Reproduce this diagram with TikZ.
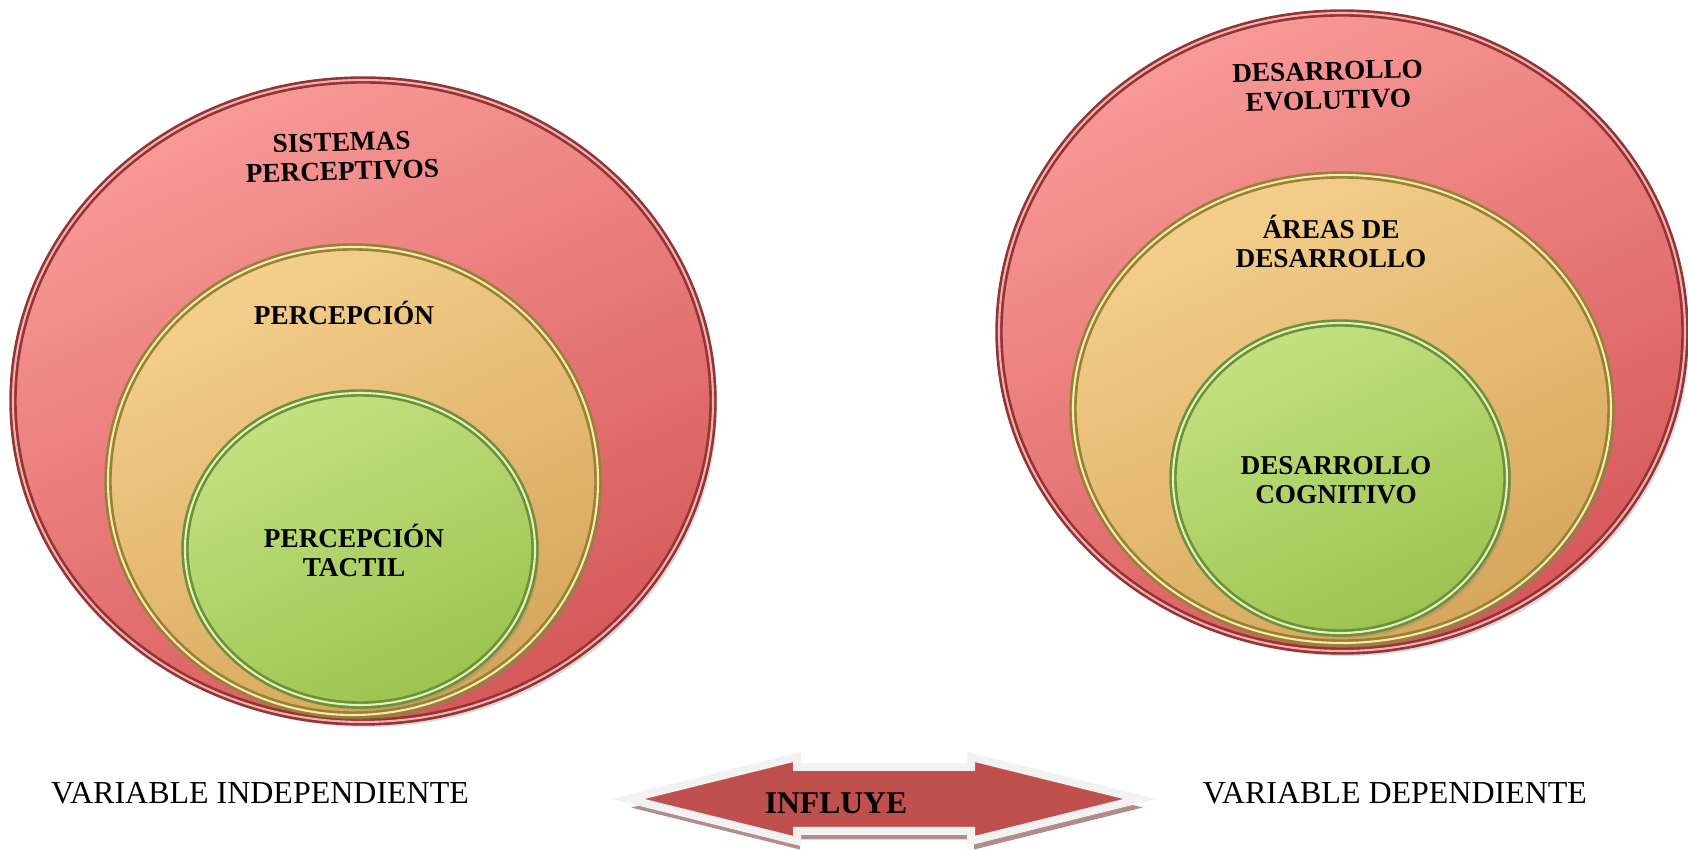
\documentclass[tikz,border=0pt]{standalone}
\usepackage{fontspec}
\setmainfont{Liberation Serif}
\usetikzlibrary{shapes.geometric,shadows}

\definecolor{redtop}{HTML}{F89A98}
\definecolor{redbot}{HTML}{D65859}
\definecolor{redrim}{HTML}{943434}
\definecolor{redlight}{HTML}{F2B0AE}
\definecolor{tantop}{HTML}{F4CF8C}
\definecolor{tanbot}{HTML}{D6A65C}
\definecolor{tanrim}{HTML}{968230}
\definecolor{tanlight}{HTML}{F8E6B4}
\definecolor{greentop}{HTML}{C2E281}
\definecolor{greenbot}{HTML}{9CC350}
\definecolor{greenrim}{HTML}{6E9036}
\definecolor{greenlight}{HTML}{E2F2BE}
\definecolor{arrowred}{HTML}{C0504D}
\definecolor{arrowedge}{HTML}{F2F2F2}
\definecolor{arrowshade}{HTML}{B38C8A}

\begin{document}
\begin{tikzpicture}[
    ring/.style={ellipse, inner sep=0pt, line width=1.5pt, double distance=1.2pt,
        drop shadow={shadow xshift=0.08cm, shadow yshift=-0.1cm, opacity=0.3}},
    redring/.style={ring, draw=redrim, double=redlight, top color=redtop, bottom color=redbot, shading angle=25},
    tanring/.style={ring, draw=tanrim, double=tanlight, top color=tantop, bottom color=tanbot, shading angle=25},
    greenring/.style={ring, draw=greenrim, double=greenlight, top color=greentop, bottom color=greenbot, shading angle=25},
    lbl/.style={align=center, inner sep=1pt, font=\fontsize{15.5}{16.5}\selectfont\bfseries},
    varlbl/.style={inner sep=1pt, font=\fontsize{18.2}{22}\selectfont}
  ]
    \useasboundingbox (0,0) rectangle (33.76,17);

    % independiente
    \node[redring, minimum width=14cm, minimum height=12.84cm] (sisOut) at (7.26,8.98) {};
    \node[tanring, minimum width=9.8cm, minimum height=9.36cm] (sisMid) at (7.06,7.38) {};
    \node[greenring, minimum width=7cm, minimum height=6.24cm] (sisIn) at (7.2,6.02) {};
    \node[lbl, rotate=1.5] (sisTxt) at ([shift={(-0.42,-1.56)}]sisOut.north) {SISTEMAS\\PERCEPTIVOS};
    \node[lbl] (perTxt) at ([shift={(-0.18,-1.34)}]sisMid.north) {PERCEPCIÓN};
    \node[lbl] (tacTxt) at ([shift={(-0.12,-0.02)}]sisIn.center) {PERCEPCIÓN\\TACTIL};

    % dependiente
    \node[redring, minimum width=13.72cm, minimum height=12.76cm] (desOut) at (26.84,10.36) {};
    \node[tanring, minimum width=10.76cm, minimum height=9.36cm] (desMid) at (26.84,8.82) {};
    \node[greenring, minimum width=6.68cm, minimum height=6.2cm] (desIn) at (26.8,7.44) {};
    \node[lbl, rotate=1.5] (evoTxt) at ([shift={(-0.28,-1.48)}]desOut.north) {DESARROLLO\\EVOLUTIVO};
    \node[lbl] (areTxt) at ([shift={(-0.22,-1.36)}]desMid.north) {ÁREAS DE\\DESARROLLO};
    \node[lbl] (cogTxt) at ([shift={(-0.08,-0.04)}]desIn.center) {DESARROLLO\\COGNITIVO};

    % flecha
    \draw[fill=arrowred, draw=arrowedge, line width=0.16cm, miter limit=20,
        drop shadow={shadow xshift=0.06cm, shadow yshift=-0.17cm, fill=arrowshade, opacity=1}]
        (12.56,1.02) -- (15.94,1.86) -- (15.94,1.66) -- (19.42,1.66) -- (19.42,1.86) -- (22.80,1.02)
        -- (19.42,0.18) -- (19.42,0.38) -- (15.94,0.38) -- (15.94,0.18) -- cycle;
    \node[lbl, font=\fontsize{18}{20}\selectfont\bfseries] (influye) at (16.72,0.94) {INFLUYE};

    \node[varlbl] (varInd) at (5.2,1.13) {VARIABLE INDEPENDIENTE};
    \node[varlbl] (varDep) at (27.9,1.13) {VARIABLE DEPENDIENTE};
\end{tikzpicture}
\end{document}
